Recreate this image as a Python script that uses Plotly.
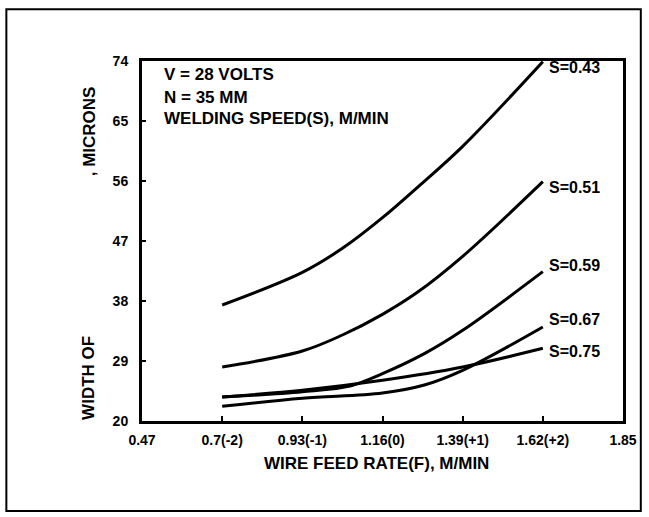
import plotly.graph_objects as go

# wire feed rate (F), m/min and bead width readings per welding speed (S)
speeds = ["S=0.43", "S=0.51", "S=0.59", "S=0.67", "S=0.75"]

x_043 = [0.70, 0.93, 1.045, 1.16, 1.27, 1.39, 1.62]
y_043 = [37.4, 42.3, 45.9, 50.5, 55.5, 61.2, 73.9]

x_051 = [0.70, 0.93, 1.045, 1.16, 1.26, 1.39, 1.62]
y_051 = [28.1, 30.5, 32.9, 36.0, 39.3, 44.7, 55.9]

x_059 = [0.70, 0.93, 1.07, 1.16, 1.28, 1.39, 1.62]
y_059 = [23.6, 24.4, 25.3, 27.1, 30.1, 33.6, 42.4]

x_067 = [0.70, 0.93, 1.16, 1.28, 1.39, 1.62]
y_067 = [22.2, 23.4, 24.2, 25.4, 27.6, 34.1]

x_075 = [0.70, 0.93, 1.16, 1.39, 1.62]
y_075 = [23.6, 24.6, 26.1, 28.1, 30.9]

label_y = [73.1, 55.1, 43.3, 35.3, 30.4]

x_ticks = [0.47, 0.70, 0.93, 1.16, 1.39, 1.62, 1.85]
x_ticktext = ["0.47", "0.7(-2)", "0.93(-1)", "1.16(0)", "1.39(+1)", "1.62(+2)", "1.85"]
y_ticks = [20, 29, 38, 47, 56, 65, 74]

notes = ["V = 28 VOLTS", "N = 35 MM", "WELDING SPEED(S), M/MIN"]
notes_y = [72.0, 68.6, 65.4]

FONT = "Liberation Sans, Arial, sans-serif"

fig = go.Figure()
series = [(x_043, y_043), (x_051, y_051), (x_059, y_059), (x_067, y_067), (x_075, y_075)]
for (xs, ys), name in zip(series, speeds):
    fig.add_trace(go.Scatter(x=xs, y=ys, mode="lines", name=name,
                             line=dict(color="black", width=3, shape="spline", smoothing=1.0),
                             showlegend=False))

for name, yy in zip(speeds, label_y):
    fig.add_annotation(x=0.842, xref="paper", y=yy, yref="y", text=name, showarrow=False,
                       xanchor="left", yanchor="middle",
                       font=dict(family=FONT, size=16, color="black", weight="bold"))

for txt, yy in zip(notes, notes_y):
    fig.add_annotation(x=0.041, xref="paper", y=yy, yref="y", text=txt, showarrow=False,
                       xanchor="left", yanchor="middle",
                       font=dict(family=FONT, size=17, color="black", weight="bold"))

# axis titles (y title is split in the original)
fig.add_annotation(x=0.4865, xref="paper", y=-0.117, yref="paper", text="WIRE FEED RATE(F), M/MIN",
                   showarrow=False, xanchor="center", yanchor="middle",
                   font=dict(family=FONT, size=17, color="black", weight="bold"))
fig.add_annotation(x=-0.11, xref="paper", y=0.12, yref="paper", text="WIDTH OF", textangle=-90,
                   showarrow=False, xanchor="center", yanchor="middle",
                   font=dict(family=FONT, size=17, color="black", weight="bold"))
fig.add_annotation(x=-0.11, xref="paper", y=0.805, yref="paper", text=", MICRONS", textangle=-90,
                   showarrow=False, xanchor="center", yanchor="middle",
                   font=dict(family=FONT, size=17, color="black", weight="bold"))

# outer frame round the whole figure
fig.add_shape(type="rect", xref="paper", yref="paper", x0=-0.282, x1=1.037, y0=-0.25, y1=1.144,
              line=dict(color="black", width=2))

fig.update_xaxes(range=[0.47, 1.85], tickvals=x_ticks, ticktext=x_ticktext,
                 showgrid=False, zeroline=False, showline=True, mirror=True,
                 linecolor="black", linewidth=3, ticks="inside", ticklen=5, tickwidth=1.5,
                 tickcolor="black", ticklabelstandoff=4,
                 tickfont=dict(family=FONT, size=14, color="black", weight="bold"))
fig.update_yaxes(range=[20, 74], tickvals=y_ticks,
                 showgrid=False, zeroline=False, showline=True, mirror=True,
                 linecolor="black", linewidth=3, ticks="inside", ticklen=4, tickwidth=1.5,
                 tickcolor="black", ticklabelstandoff=8,
                 tickfont=dict(family=FONT, size=14, color="black", weight="bold"))

fig.update_layout(width=649, height=517,
                  margin=dict(l=142, r=24, t=61, b=96),
                  plot_bgcolor="white", paper_bgcolor="white",
                  showlegend=False)

# drop the browser's default body margin so the figure sits at the page corner
fig.write_html("out.html", config={"displayModeBar": False},
               post_script="document.body.style.margin='0px';")
